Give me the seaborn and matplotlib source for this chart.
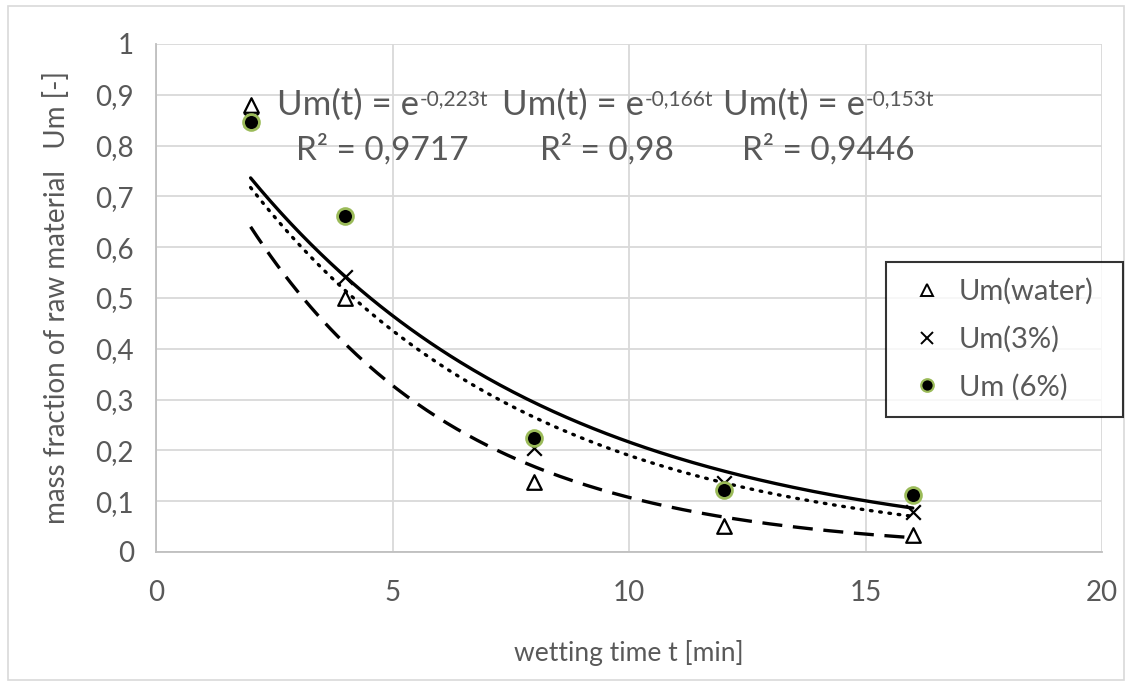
import numpy as np
import pandas as pd
import matplotlib
matplotlib.use("Agg")
import matplotlib.pyplot as plt
import seaborn as sns
from matplotlib.patches import Rectangle
from matplotlib.lines import Line2D

# ---- data ----
t = [2, 4, 8, 12, 16]
um_water = [0.88, 0.50, 0.138, 0.052, 0.033]
um_3 = [0.85, 0.542, 0.204, 0.135, 0.079]
um_6 = [0.847, 0.661, 0.224, 0.123, 0.112]
series_names = ["Um(water)", "Um(3%)", "Um (6%)"]
fit_k = [0.223, 0.166, 0.153]           # Um(t) = e^(-k t)
fit_k_text = ["-0,223t", "-0,166t", "-0,153t"]
r2_text = ["0,9717", "0,98", "0,9446"]
x_ticks = [0, 5, 10, 15, 20]
y_ticks = [0, 0.1, 0.2, 0.3, 0.4, 0.5, 0.6, 0.7, 0.8, 0.9, 1.0]
y_tick_labels = ["0", "0,1", "0,2", "0,3", "0,4", "0,5", "0,6", "0,7", "0,8", "0,9", "1"]

sns.set_theme(style="white")
plt.rcParams['font.family'] = ['Lato', 'DejaVu Sans']

W, H = 1132, 686
fig = plt.figure(figsize=(W / 100, H / 100), dpi=100)
ax = fig.add_axes([156/W, 1-552/H, (1102-156)/W, (552-44)/H])

# chart-area border
fig.patches.append(Rectangle((8/W, 6/H), 1116/W, 674/H, transform=fig.transFigure,
                             fill=False, edgecolor="#d9d9d9", linewidth=1.2))

# trend lines
tt = np.linspace(t[0], t[-1], 200)
line_styles = [(0, (6, 3.2)), (0, (0.5, 2.3)), "-"]
for k, ls in zip(fit_k, line_styles):
    df_l = pd.DataFrame({"t": tt, "u": np.exp(-k * tt)})
    sns.lineplot(data=df_l, x="t", y="u", ax=ax, color="black", linewidth=2.4, linestyle=ls)
ax.lines[0].set_dash_capstyle("butt")
ax.lines[1].set_dash_capstyle("round")

# scatter
df = pd.DataFrame({"t": t * 3,
                   "u": um_water + um_3 + um_6,
                   "s": [series_names[0]] * 5 + [series_names[1]] * 5 + [series_names[2]] * 5})
sns.scatterplot(data=df[df.s == series_names[0]], x="t", y="u", ax=ax, marker="^",
                s=110, facecolor="white", edgecolor="black", linewidth=1.6, zorder=5, legend=False)
sns.scatterplot(data=df[df.s == series_names[1]], x="t", y="u", ax=ax, marker="x",
                s=110, color="black", linewidth=1.6, zorder=6, legend=False)
sns.scatterplot(data=df[df.s == series_names[2]], x="t", y="u", ax=ax, marker="o",
                s=130, color="black", edgecolor="#9bbb59", linewidth=2, zorder=7, legend=False)

ax.set_xlim(0, 20)
ax.set_ylim(0, 1)
ax.set_xticks(x_ticks)
ax.set_xticklabels([str(v) for v in x_ticks])
ax.set_yticks(y_ticks)
ax.set_yticklabels(y_tick_labels)
ax.tick_params(axis="both", colors="#595959", labelsize=20, length=0)
ax.tick_params(axis="x", pad=20)
ax.tick_params(axis="y", pad=16)
ax.grid(True, color="#d9d9d9", linewidth=1.3)
ax.set_axisbelow(True)
for side in ["top", "right"]:
    ax.spines[side].set_visible(False)
for side in ["left", "bottom"]:
    ax.spines[side].set_color("#bfbfbf")
    ax.spines[side].set_linewidth(1.3)

ax.set_xlabel("wetting time t [min]", fontsize=19, color="#595959", labelpad=25)
ax.set_ylabel("mass fraction of raw material   Um [-]", fontsize=20, color="#595959", labelpad=18)

# equation labels with real superscripts
fig.canvas.draw()
renderer = fig.canvas.get_renderer()
centers_x = [382, 607, 828]
base_y = 115      # baseline of main text (pixels from top)
for cx, kt, r2 in zip(centers_x, fit_k_text, r2_text):
    main = fig.text(0, 1 - base_y/H, "Um(t) = e", ha="left", va="baseline",
                    fontsize=25, color="#595959")
    sup = fig.text(0, 1 - 105/H, kt, ha="left", va="baseline", fontsize=15, color="#595959")
    wm = main.get_window_extent(renderer).width
    ws = sup.get_window_extent(renderer).width
    x0 = cx - (wm + ws) / 2
    main.set_x(x0 / W)
    sup.set_x((x0 + wm + 1) / W)
    fig.text(cx / W, 1 - 150/H, "R² = " + r2, ha="center", va="center", fontsize=24, color="#595959")

# legend
handles = [
    Line2D([], [], marker="^", linestyle="none", markerfacecolor="white", markeredgecolor="black",
           markersize=9, markeredgewidth=1.4),
    Line2D([], [], marker="x", linestyle="none", color="black", markersize=9, markeredgewidth=1.4),
    Line2D([], [], marker="o", linestyle="none", markerfacecolor="black", markeredgecolor="#9bbb59",
           markersize=9, markeredgewidth=1.6),
]
leg = fig.legend(handles, series_names, loc="upper left", mode="expand",
                 bbox_to_anchor=(886/W, 1 - 417/H, 237/W, 155/H), frameon=True, fontsize=21,
                 labelcolor="#595959", borderpad=0.55, labelspacing=0.72, handletextpad=0.25,
                 handlelength=1.7, fancybox=False, borderaxespad=0)
leg.get_frame().set_edgecolor("black")
leg.get_frame().set_linewidth(1.5)

fig.savefig("out.png", dpi=100)
